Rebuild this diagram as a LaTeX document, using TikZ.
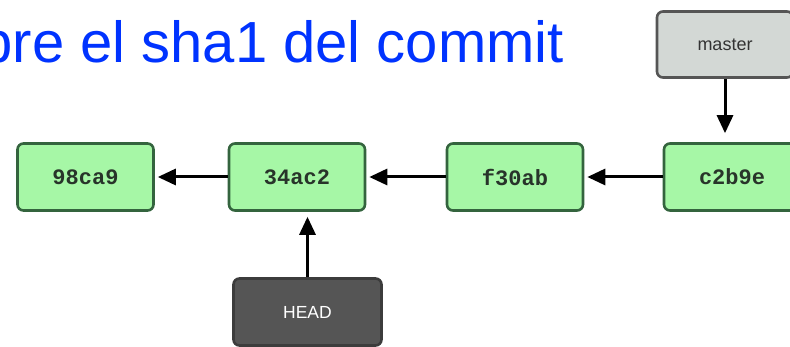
\documentclass[tikz,border=0pt]{standalone}
\usepackage{fontspec}
\setmainfont{Liberation Sans}
\newfontfamily\hashfont{Liberation Mono}
\usetikzlibrary{arrows.meta}
\definecolor{titleblue}{RGB}{0,51,255}
\definecolor{commitfill}{RGB}{166,247,166}
\definecolor{commitedge}{RGB}{52,100,62}
\definecolor{commitink}{RGB}{40,52,42}
\definecolor{branchfill}{RGB}{211,216,213}
\definecolor{branchedge}{RGB}{85,85,85}
\definecolor{headfill}{RGB}{85,85,85}
\definecolor{headedge}{RGB}{60,60,60}
\tikzset{
  commitbox/.style={draw=commitedge, fill=commitfill, line width=2.6pt,
    rounded corners=6pt, minimum width=136pt, minimum height=67pt,
    inner sep=0pt, text=commitink,
    font=\hashfont\bfseries\fontsize{22}{24}\selectfont},
  branchbox/.style={draw=branchedge, fill=branchfill, line width=2.6pt,
    rounded corners=6pt, minimum width=136pt, minimum height=66pt,
    inner sep=0pt, text=black!80, font=\fontsize{18}{20}\selectfont},
  headbox/.style={draw=headedge, fill=headfill, line width=2.6pt,
    rounded corners=6pt, minimum width=148pt, minimum height=67pt,
    inner sep=0pt, text=white, font=\fontsize{17.5}{19}\selectfont},
  ptr/.style={line width=3pt, draw=black,
    -{Triangle[length=18pt,width=16pt]}},
}
\begin{document}
\begin{tikzpicture}[x=1pt,y=-1pt]
  \useasboundingbox (0,0) rectangle (790,347);
  \clip (0,0) rectangle (790,347);

  % heading line
  \node[anchor=base west, inner sep=0pt, text=titleblue,
        font=\fontsize{58}{62}\selectfont] (title) at (-81,63)
        {sobre el sha1 del commit};

  % commits
  \node[commitbox] (c98) at (85.5,177) {98ca9};
  \node[commitbox] (c34) at (297,177) {34ac2};
  \node[commitbox] (cf3) at (515,177) {f30ab};
  \node[commitbox] (cc2) at (732,177) {c2b9e};

  % references
  \node[branchbox] (master) at (725,44.5) {master};
  \node[headbox] (head) at (307.5,312) {HEAD};

  % parent links
  \draw[ptr, shorten >=3pt] (c34.west) -- (c98.east);
  \draw[ptr, shorten >=3pt] (cf3.west) -- (c34.east);
  \draw[ptr, shorten >=3pt] (cc2.west) -- (cf3.east);

  % reference pointers
  \draw[ptr, shorten >=9pt] (master.south) -- (master.south |- cc2.north);
  \draw[ptr, shorten >=5pt] (head.north) -- (head.north |- c34.south);
\end{tikzpicture}
\end{document}
